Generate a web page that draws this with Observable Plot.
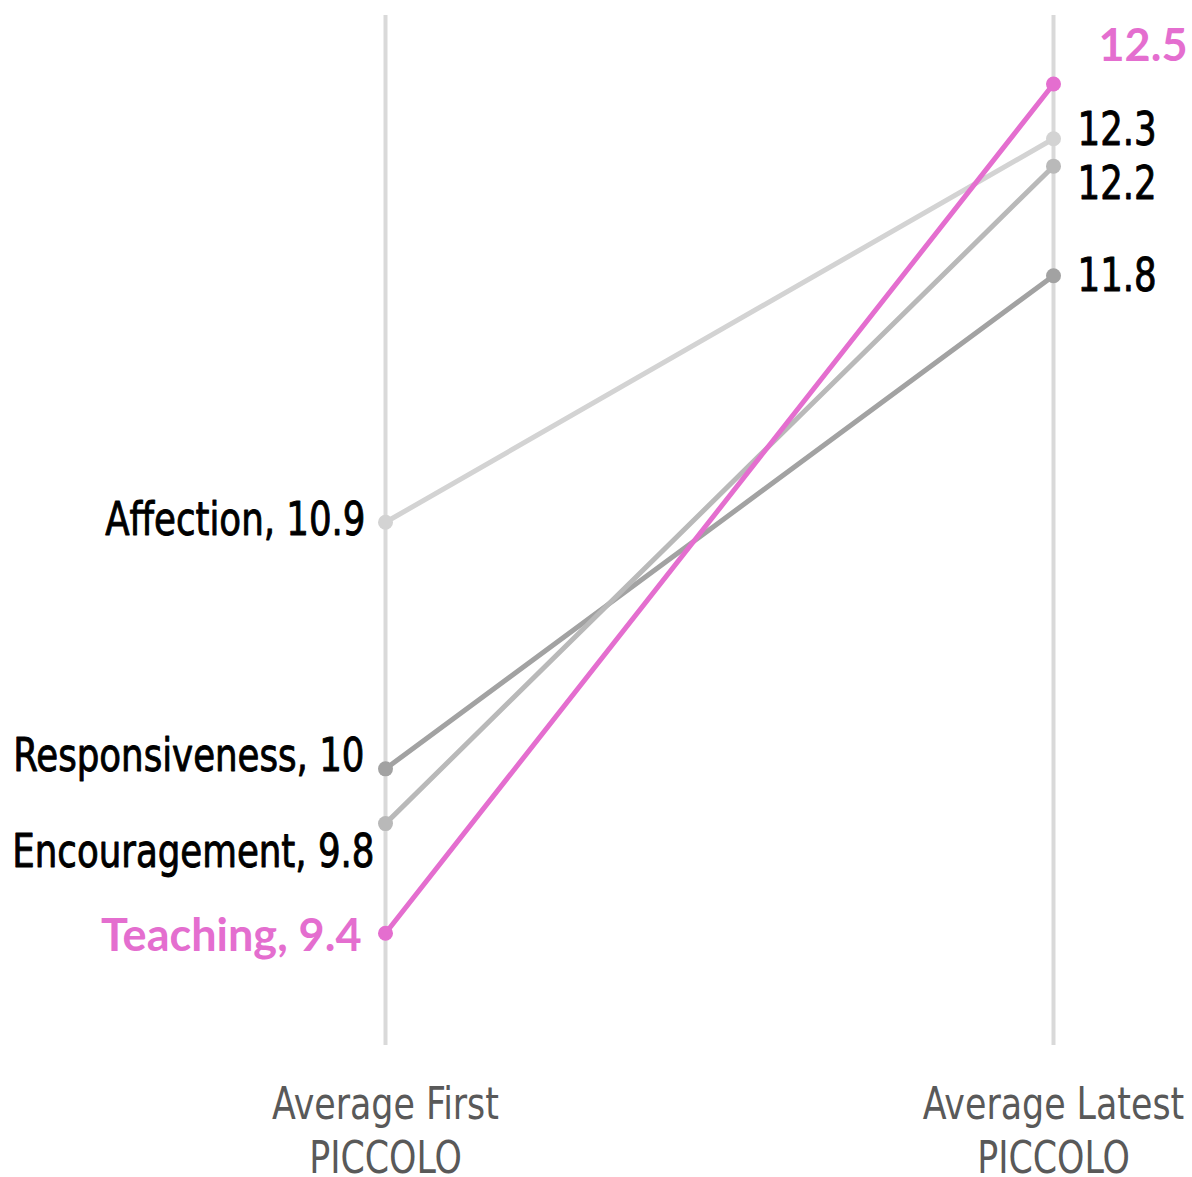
<!DOCTYPE html>
<html>
<head>
<meta charset="utf-8">
<script src="https://cdn.jsdelivr.net/npm/d3@7"></script>
<script src="https://cdn.jsdelivr.net/npm/@observablehq/plot@0.6"></script>
<style>
  body { margin: 0; background: #fff; }
</style>
</head>
<body>
<div id="chart"></div>
<script>
// PICCOLO domain scores: first vs latest assessment averages
const periods = ["Average First PICCOLO", "Average Latest PICCOLO"];
const categories = ["Affection", "Responsiveness", "Encouragement", "Teaching"];
const firstScores = [10.9, 10, 9.8, 9.4];
const latestScores = [12.3, 11.8, 12.2, 12.5];

// Styling per domain
const lineColor = {
  Affection: "#D3D3D3",
  Responsiveness: "#A2A2A2",
  Encouragement: "#B9B9B9",
  Teaching: "#E46ECF"
};
const labelColor = {Affection: "#000", Responsiveness: "#000", Encouragement: "#000", Teaching: "#E46ECF"};
// Label offsets (px) so neighbouring labels do not collide
const leftNudge = {Affection: -2, Responsiveness: -13, Encouragement: 29, Teaching: 3};
const leftShift = {Affection: -20, Responsiveness: -21, Encouragement: -11, Teaching: -24};
const rightNudge = {Affection: -9, Responsiveness: 1, Encouragement: 18, Teaching: -37};
const rightShift = {Affection: 24, Responsiveness: 24, Encouragement: 24, Teaching: 45};

const narrow = "'DejaVu Sans Condensed', 'DejaVu Sans', sans-serif";
const bold = "Lato, 'Open Sans', sans-serif";
const condense = 0.86; // horizontal squeeze for the condensed label face

const rows = categories.flatMap((c, i) => [
  {category: c, period: periods[0], score: firstScores[i]},
  {category: c, period: periods[1], score: latestScores[i]}
]);

const labelMarks = categories.flatMap((c, i) => {
  const isTeach = c === "Teaching";
  const font = {
    fontFamily: isTeach ? bold : narrow,
    fontWeight: isTeach ? 700 : 400,
    fontSize: isTeach ? 45 : 46,
    fill: labelColor[c],
    stroke: labelColor[c],
    strokeWidth: isTeach ? 0 : 0.9,
    className: isTeach ? "lbl-bold" : "lbl-narrow"
  };
  return [
    Plot.text([{period: periods[0], score: firstScores[i]}], {
      x: "period", y: "score",
      text: d => `${c}, ${d.score}`,
      textAnchor: "end", dx: leftShift[c], dy: leftNudge[c], ...font
    }),
    Plot.text([{period: periods[1], score: latestScores[i]}], {
      x: "period", y: "score",
      text: d => d3.format(".1f")(d.score),
      textAnchor: "start", dx: rightShift[c], dy: rightNudge[c], ...font
    })
  ];
});

const chart = Plot.plot({
  width: 1192,
  height: 1177,
  marginTop: 15,
  marginBottom: 132,
  marginLeft: 385,
  marginRight: 139,
  x: {domain: periods, padding: 0, label: null},
  y: {domain: [8.99, 12.75], axis: null},
  style: {background: "#fff"},
  marks: [
    Plot.ruleX(periods, {stroke: "#D9D9D9", strokeWidth: 4}),
    Plot.axisX({
      tickSize: 0,
      tickPadding: 35,
      fontSize: 45,
      fontFamily: narrow,
      fill: "#595959",
      stroke: "#595959",
      strokeWidth: 0.9,
      lineHeight: 1.2,
      className: "lbl-narrow",
      tickFormat: d => d.replace(" PICCOLO", "\nPICCOLO")
    }),
    Plot.line(rows, {
      x: "period", y: "score", z: "category",
      stroke: d => lineColor[d.category], strokeWidth: 5
    }),
    Plot.dot(rows, {
      x: "period", y: "score",
      fill: d => lineColor[d.category], r: 7.5
    }),
    ...labelMarks
  ]
});

document.getElementById("chart").append(chart);

// Squeeze the narrow-face labels horizontally to a condensed width
chart.querySelectorAll(".lbl-narrow text").forEach(t => {
  const parts = t.querySelectorAll("tspan");
  const targets = parts.length ? Array.from(parts) : [t];
  targets.forEach(el => {
    const w = el.getComputedTextLength();
    el.setAttribute("textLength", (w * condense).toFixed(1));
    el.setAttribute("lengthAdjust", "spacingAndGlyphs");
  });
});
</script>
</body>
</html>
